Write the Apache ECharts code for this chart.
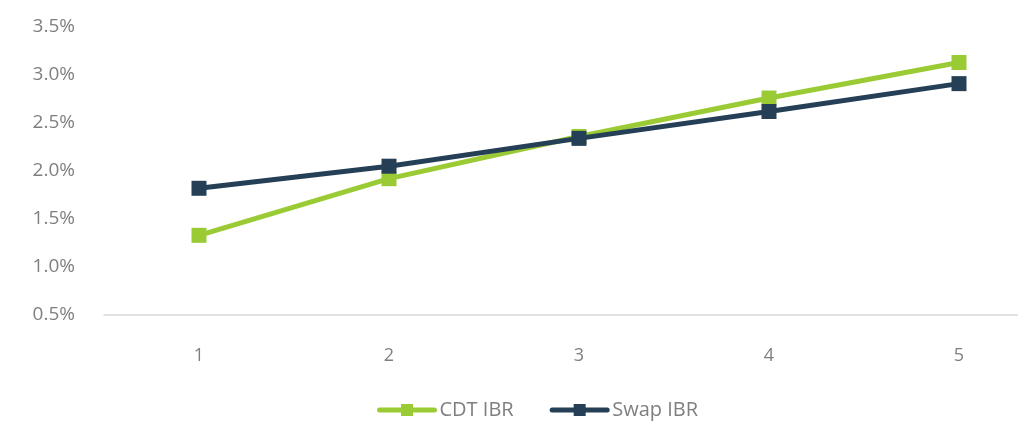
<!DOCTYPE html>
<html>
<head>
<meta charset="utf-8">
<style>
  html, body { margin: 0; padding: 0; background: #ffffff; overflow: hidden; }
  /* The plot runs past the right edge of the page, so the canvas is a little wider than the window */
  #chart { width: 1054px; height: 425px; }
</style>
<script src="https://cdn.jsdelivr.net/npm/echarts@6/dist/echarts.min.js"></script>
</head>
<body>
<div id="chart"></div>
<script>
// Tenor in years
const tenors = ['1', '2', '3', '4', '5'];
// Rates in percent
const cdtIbr = [1.33, 1.92, 2.36, 2.76, 3.13];
const swapIbr = [1.82, 2.05, 2.34, 2.62, 2.91];

const textColor = '#7f7f7f';
const fontFamily = '"Open Sans", "Noto Sans", sans-serif';

const chart = echarts.init(document.getElementById('chart'), null, { renderer: 'canvas' });

chart.setOption({
  animation: false,
  backgroundColor: '#ffffff',
  textStyle: { fontFamily: fontFamily },
  grid: { left: 104, right: 0, top: 27, bottom: 110, containLabel: false },
  legend: {
    bottom: 0,
    left: 372,
    itemWidth: 55,
    itemHeight: 15,
    itemGap: 36,
    lineStyle: { width: 5, cap: 'round' },
    textStyle: { color: textColor, fontSize: 20, fontFamily: fontFamily },
    data: ['CDT IBR', 'Swap IBR']
  },
  xAxis: {
    type: 'category',
    data: tenors,
    boundaryGap: true,
    axisLine: { show: true, lineStyle: { color: '#d9d9d9', width: 1.5 } },
    axisTick: { show: false },
    axisLabel: { color: textColor, fontSize: 18, margin: 32, fontFamily: fontFamily },
    splitLine: { show: false }
  },
  yAxis: {
    type: 'value',
    min: 0.5,
    max: 3.5,
    interval: 0.5,
    axisLine: { show: false },
    axisTick: { show: false },
    splitLine: { show: false },
    axisLabel: {
      color: textColor,
      fontSize: 19,
      margin: 29,
      fontFamily: fontFamily,
      formatter: v => v.toFixed(1) + '%'
    }
  },
  series: [
    {
      name: 'CDT IBR',
      type: 'line',
      data: cdtIbr,
      symbol: 'rect',
      symbolSize: 15,
      lineStyle: { color: '#9acb34', width: 5 },
      itemStyle: { color: '#9acb34' },
      z: 2
    },
    {
      name: 'Swap IBR',
      type: 'line',
      data: swapIbr,
      symbol: 'rect',
      symbolSize: 15,
      lineStyle: { color: '#243f56', width: 5 },
      itemStyle: { color: '#243f56' },
      z: 3
    }
  ]
});
</script>
</body>
</html>
